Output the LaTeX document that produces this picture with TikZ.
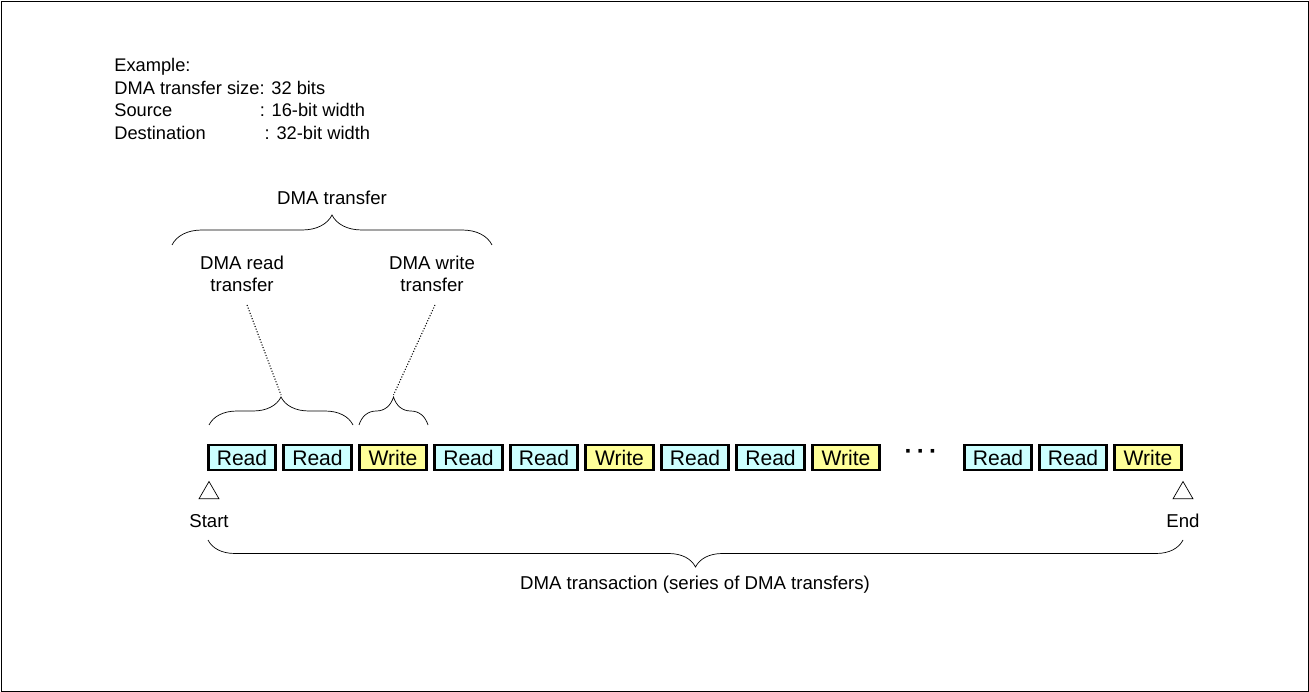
\documentclass[tikz,border=0pt]{standalone}
\usepackage{fontspec}
\setmainfont{Liberation Sans}
\definecolor{readcyan}{HTML}{CCFFFF}
\definecolor{writeyellow}{HTML}{FFFF99}
\usetikzlibrary{positioning, shapes.geometric, decorations.pathreplacing, calc}
\tikzset{
	opnode/.style={
			rectangle,
			draw=black,
			line width=1.6pt,
			minimum width=1.345cm,
			minimum height=0.5cm,
			inner sep=0pt,
			font=\fontsize{12}{14}\selectfont
		},
	readnode/.style={
			opnode,
			fill=readcyan
		},
	writenode/.style={
			opnode,
			fill=writeyellow
		},
	marknode/.style={
			regular polygon,
			regular polygon sides=3,
			draw=black,
			thin,
			minimum size=0.46cm,
			inner sep=0pt
		},
	bracedeco/.style={
			decorate,
			decoration={brace, amplitude=#1},
			thin
		}
}
\tikzset{
	plaintext/.style={font=\fontsize{10.6}{12.5}\selectfont, inner sep=0pt}
}
\tikzset{
	leader/.style={densely dotted, line width=0.6pt}
}

\begin{document}
\begin{tikzpicture}[x=0.02cm, y=-0.02cm]
  \useasboundingbox (0,0) rectangle (1309,692);
  \draw[thin] (1,1) rectangle (1308,691);

  \node[plaintext, font=\fontsize{10.4}{12.9}\selectfont, align=left, anchor=north west] (example) at (114,58)
    {Example:\\DMA transfer size: 32 bits\\\makebox[82.8pt][l]{Source}: 16-bit width\\\makebox[85.6pt][l]{Destination}: 32-bit width};

  % operations
  \node[readnode] (r1) at (242,457.5) {Read};
  \node[readnode] (r2) at (317.5,457.5) {Read};
  \node[writenode] (w1) at (393,457.5) {Write};
  \node[readnode] (r3) at (468.5,457.5) {Read};
  \node[readnode] (r4) at (544,457.5) {Read};
  \node[writenode] (w2) at (619.5,457.5) {Write};
  \node[readnode] (r5) at (695,457.5) {Read};
  \node[readnode] (r6) at (770.5,457.5) {Read};
  \node[writenode] (w3) at (846,457.5) {Write};
  \node[plaintext, font=\fontsize{14}{16}\selectfont\bfseries] (dots) at (921,454) {·\,·\,·};
  \node[readnode] (rn1) at (998,457.5) {Read};
  \node[readnode] (rn2) at (1073,457.5) {Read};
  \node[writenode] (wn) at (1148,457.5) {Write};

  % start / end
  \node[marknode] (start) at (209,493) {};
  \node[marknode] (end) at (1183,493) {};
  \node[plaintext] (startlbl) at (209,521) {Start};
  \node[plaintext] (endlbl) at (1183,521) {End};

  % braces
  \draw[bracedeco=0.6cm] (172,245) -- (492,245);
  \node[plaintext] (xferlbl) at (332,198) {DMA transfer};
  \draw[bracedeco=0.56cm] (209,425) -- (353,425);
  \draw[bracedeco=0.56cm] (359,425) -- (428,425);
  \coordinate (readtip) at (281,395);
  \coordinate (writetip) at (393.5,395);
  \node[plaintext, align=center] (readlbl) at (242,274) {DMA read\\transfer};
  \node[plaintext, align=center] (writelbl) at (432,274) {DMA write\\transfer};
  \draw[leader] (readlbl) ++(5,31) -- (readtip);
  \draw[leader] (writelbl) ++(3,31) -- (writetip);

  \draw[bracedeco=0.54cm] (1183,540) -- (208,540);
  \node[plaintext] (translbl) at (695,585) {DMA transaction (series of DMA transfers)};
\end{tikzpicture}
\end{document}
